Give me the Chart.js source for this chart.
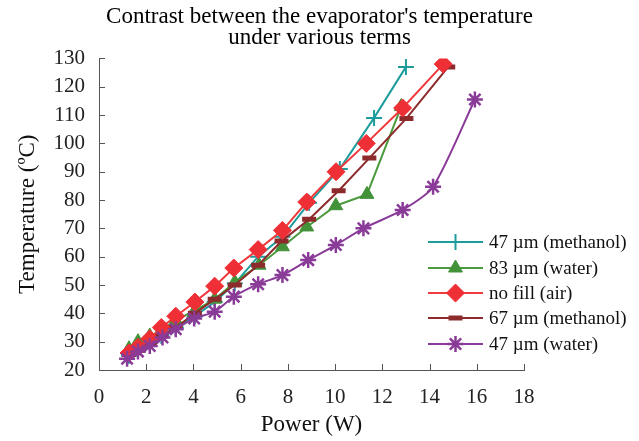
<!DOCTYPE html>
<html>
<head>
<meta charset="utf-8">
<script src="https://cdn.jsdelivr.net/npm/chart.js@4/dist/chart.umd.min.js"></script>
<style>
  html, body { margin: 0; padding: 0; background: #fff; }
  #wrap { width: 639px; height: 441px; }
</style>
</head>
<body>
<div id="wrap"><canvas id="chart1" width="639" height="441"></canvas></div>
<script>
// series (power in W, temperature in C)
const labels = ['47 µm (methanol)', '83 µm (water)', 'no fill (air)', '67 µm (methanol)', '47 µm (water)'];

const meth47X = [1.27, 1.65, 2.15, 2.64, 3.25, 4.06, 4.9, 5.75, 6.74, 7.77, 8.9, 10.2, 11.65, 13.0];
const meth47Y = [25, 27, 29.5, 32, 35, 39, 44, 50.5, 60, 67, 79, 91, 109, 127];

const water83X = [1.27, 1.65, 2.15, 2.64, 3.25, 4.06, 4.9, 5.75, 6.78, 7.77, 8.8, 10.03, 11.35, 12.8];
const water83Y = [27.5, 30, 32, 34, 37.5, 41, 45, 51, 57, 63.5, 70.5, 78, 82, 113];

const airX = [1.27, 1.65, 2.15, 2.64, 3.25, 4.06, 4.9, 5.71, 6.74, 7.77, 8.8, 10.04, 11.32, 12.86, 14.58];
const airY = [26, 28, 31, 35, 39, 44, 49.6, 56, 62.5, 69.3, 79.3, 90, 100, 112.5, 128];

const meth67X = [1.27, 1.65, 2.15, 2.64, 3.25, 4.06, 4.9, 5.75, 6.74, 7.73, 8.9, 10.15, 11.45, 13.02, 14.79];
const meth67Y = [25.5, 27, 29, 32, 35, 40, 45, 50, 57, 65.5, 73.2, 83.3, 94.8, 108.8, 127];

const water47X = [1.19, 1.65, 2.15, 2.69, 3.25, 4.03, 4.9, 5.71, 6.74, 7.77, 8.86, 10.03, 11.2, 12.86, 14.15, 15.92];
const water47Y = [24, 26.5, 28.5, 31.5, 34.4, 38.2, 40.6, 45.9, 50.3, 53.5, 58.8, 64.1, 70, 76.5, 84.7, 115.5];

const xTicks = [0, 2, 4, 6, 8, 10, 12, 14, 16, 18];
const yTicks = [20, 30, 40, 50, 60, 70, 80, 90, 100, 110, 120, 130];

const serif = "'Liberation Serif', 'Times New Roman', serif";

function pts(xs, ys) {
  return xs.map((x, i) => ({ x: x, y: ys[i] }));
}

// small ticks pointing into the plot, like the original
const innerTicks = {
  id: 'innerTicks',
  afterDraw(chart) {
    const ctx = chart.ctx;
    const xs = chart.scales.x, ys = chart.scales.y;
    ctx.save();
    ctx.strokeStyle = '#555';
    ctx.lineWidth = 1;
    ctx.beginPath();
    xTicks.slice(1).forEach(v => {
      const px = Math.round(xs.getPixelForValue(v)) + 0.5;
      ctx.moveTo(px, ys.bottom);
      ctx.lineTo(px, ys.bottom - 6);
    });
    yTicks.slice(1).forEach(v => {
      const py = Math.round(ys.getPixelForValue(v)) + 0.5;
      ctx.moveTo(xs.left, py);
      ctx.lineTo(xs.left + 6, py);
    });
    ctx.stroke();
    ctx.restore();
  }
};

// legend at the right, partly outside the plot
const sideLegend = {
  id: 'sideLegend',
  afterDraw(chart) {
    const ctx = chart.ctx;
    const x0 = 428, x1 = 483, tx = 489;
    const rows = [242, 268, 293, 318, 344];
    ctx.save();
    chart.data.datasets.forEach((ds, i) => {
      const y = rows[i];
      ctx.strokeStyle = ds.borderColor;
      ctx.lineWidth = 2;
      ctx.beginPath();
      ctx.moveTo(x0, y);
      ctx.lineTo(x1, y);
      ctx.stroke();
      ctx.fillStyle = ds.pointBackgroundColor;
      ctx.strokeStyle = ds.pointBorderColor;
      ctx.lineWidth = ds.pointBorderWidth;
      Chart.helpers.drawPoint(ctx, {
        pointStyle: ds.pointStyle,
        radius: ds.pointRadius,
        borderWidth: ds.pointBorderWidth,
        rotation: 0
      }, (x0 + x1) / 2, y);
      ctx.fillStyle = '#111';
      ctx.font = '19px ' + serif;
      ctx.textBaseline = 'middle';
      ctx.textAlign = 'left';
      ctx.fillText(ds.label, tx, y + 1);
    });
    ctx.restore();
  }
};

const chart1 = document.getElementById('chart1');

new Chart(chart1, {
  type: 'scatter',
  data: {
    datasets: [{
      label: labels[0],
      data: pts(meth47X, meth47Y),
      showLine: true,
      borderColor: '#1e9c9c',
      borderWidth: 2,
      pointStyle: 'cross',
      pointRadius: 8,
      pointBorderWidth: 2,
      pointBackgroundColor: '#1e9c9c',
      pointBorderColor: '#1e9c9c',
      order: 4
    }, {
      label: labels[1],
      data: pts(water83X, water83Y),
      showLine: true,
      borderColor: '#4c9a3e',
      borderWidth: 2,
      pointStyle: 'triangle',
      pointRadius: 8,
      pointBorderWidth: 1,
      pointBackgroundColor: '#43923a',
      pointBorderColor: '#43923a',
      order: 3
    }, {
      label: labels[2],
      data: pts(airX, airY),
      showLine: true,
      borderColor: '#f03a3e',
      borderWidth: 2,
      pointStyle: 'rectRot',
      pointRadius: 9,
      pointBorderWidth: 1,
      pointBackgroundColor: '#ee2f36',
      pointBorderColor: '#ee2f36',
      order: 1
    }, {
      label: labels[3],
      data: pts(meth67X, meth67Y),
      showLine: true,
      borderColor: '#8c2a2c',
      borderWidth: 2,
      pointStyle: 'line',
      pointRadius: 7,
      pointBorderWidth: 5,
      pointBackgroundColor: '#8c2a2c',
      pointBorderColor: '#8c2a2c',
      order: 2
    }, {
      label: labels[4],
      data: pts(water47X, water47Y),
      showLine: true,
      tension: 0.25,
      borderColor: '#8a3b98',
      borderWidth: 2,
      pointStyle: 'star',
      pointRadius: 8,
      pointBorderWidth: 2.5,
      pointBackgroundColor: '#8a3b98',
      pointBorderColor: '#8a3b98',
      order: 0
    }]
  },
  options: {
    responsive: false,
    animation: false,
    layout: { padding: { top: 7, right: 0, left: 0, bottom: 0 } },
    plugins: {
      legend: { display: false },
      tooltip: { enabled: false },
      title: {
        display: true,
        text: ["Contrast between the evaporator's temperature", 'under various terms'],
        color: '#000',
        font: { family: serif, size: 23, weight: 'normal', lineHeight: 0.9 },
        padding: { top: 0, bottom: 10 }
      }
    },
    scales: {
      x: {
        type: 'linear',
        min: 0,
        max: 18,
        afterFit: s => { s.height = 71; },
        afterBuildTicks: s => { s.ticks = xTicks.map(v => ({ value: v })); },
        grid: { display: false, drawTicks: false },
        border: { display: true, color: '#555', width: 1 },
        ticks: { color: '#222', font: { family: serif, size: 21 }, padding: 15, maxRotation: 0 },
        title: {
          display: true,
          text: 'Power (W)',
          color: '#111',
          font: { family: serif, size: 23 },
          padding: { top: 0, bottom: 2 }
        }
      },
      y: {
        type: 'linear',
        min: 20,
        max: 130,
        afterFit: s => { s.width = 99; },
        afterBuildTicks: s => { s.ticks = yTicks.map(v => ({ value: v })); },
        grid: { display: false, drawTicks: false },
        border: { display: true, color: '#555', width: 1 },
        ticks: { color: '#222', font: { family: serif, size: 21 }, padding: 14 },
        title: {
          display: true,
          text: 'Temperature (ºC)',
          color: '#111',
          font: { family: serif, size: 23 },
          padding: { top: 14, bottom: 0 }
        }
      },
      // empty space on the right where the legend sits
      yr: {
        type: 'linear',
        position: 'right',
        min: 20,
        max: 130,
        afterFit: s => { s.width = 115; },
        grid: { display: false, drawTicks: false },
        border: { display: false },
        ticks: { display: false }
      }
    }
  },
  plugins: [innerTicks, sideLegend]
});
</script>
</body>
</html>
